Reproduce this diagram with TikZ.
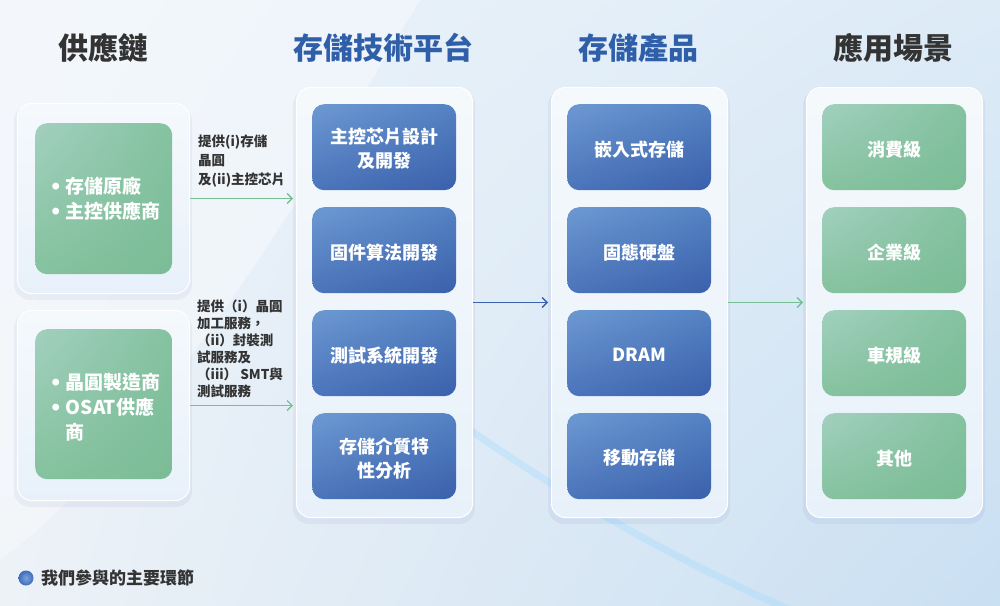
\documentclass[tikz,border=0pt]{standalone}
\usepackage{fontspec}
\setmainfont{Noto Sans CJK TC}
\newfontfamily\bulletf{Liberation Sans}
\usetikzlibrary{arrows.meta,shadings,positioning}
\definecolor{bgA}{HTML}{EEF4FA}
\definecolor{bgB}{HTML}{DDEBF7}
\definecolor{bgC}{HTML}{EDF2F7}
\definecolor{bgD}{HTML}{C9DFF2}
\definecolor{panelTop}{HTML}{F5F9FC}
\definecolor{panelBot}{HTML}{E8F1FA}
\definecolor{bluUL}{HTML}{6D99D2}
\definecolor{bluUR}{HTML}{5482C3}
\definecolor{bluLL}{HTML}{4B74BA}
\definecolor{bluLR}{HTML}{3A60AB}
\definecolor{grnUL}{HTML}{A2D0BF}
\definecolor{grnUR}{HTML}{84C2A0}
\definecolor{grnLL}{HTML}{85C29E}
\definecolor{grnLR}{HTML}{7BBC96}
\definecolor{txtDark}{HTML}{333333}
\definecolor{hdBlue}{HTML}{2F5FA9}
\definecolor{arrGreen}{HTML}{77C094}
\definecolor{arrBlue}{HTML}{3A62AE}
\definecolor{dotIn}{HTML}{7AA3DD}
\definecolor{dotOut}{HTML}{3E6CBA}
\newcommand{\bul}{{\bulletf\fontsize{24}{25}\selectfont\raisebox{-1pt}{•}}\hspace{6pt}}
\newcommand{\bulph}{\hphantom{\bul}}
\begin{document}
\begin{tikzpicture}[x=1pt,y=-1pt,
  panel/.style={rounded corners=14pt, top color=panelTop, bottom color=panelBot, draw=white, line width=1pt},
  shadowbox/.style={rounded corners=16pt, fill=blue!50!black, opacity=0.045},
  bluebox/.style={rounded corners=12pt, upper left=bluUL, upper right=bluUR, lower left=bluLL, lower right=bluLR},
  greenbox/.style={rounded corners=12pt, upper left=grnUL, upper right=grnUR, lower left=grnLL, lower right=grnLR},
  boxtext/.style={text=white, font=\fontsize{18}{24}\selectfont\bfseries, align=center},
  lefttext/.style={text=white, font=\fontsize{19}{25}\selectfont\bfseries, align=left, anchor=west},
  header/.style={font=\fontsize{30}{34}\selectfont\bfseries},
  lbl/.style={text=txtDark, font=\fontsize{13.5}{19}\selectfont\bfseries, align=left, anchor=north west, inner sep=0pt},
  garrow/.style={draw=arrGreen, line width=1.3pt, -{Straight Barb[length=5pt,width=10pt]}},
  barrow/.style={draw=arrBlue, line width=1.3pt, -{Straight Barb[length=5pt,width=10pt]}}
]
\useasboundingbox (0,0) rectangle (1000,605);
% background
\shade[upper left=bgA, upper right=bgB, lower left=bgC, lower right=bgD] (0,0) rectangle (1000,605);
\fill[white, opacity=0.35] (0,0) -- (420,0) .. controls (300,200) and (150,450) .. (0,560) -- cycle;
\draw[line width=7pt, color=blue!40!cyan!35, opacity=0.4, line cap=round] (470,430) .. controls (600,520) and (700,570) .. (790,610);

% shadows
\foreach \a/\b/\c/\d in {17/103/189/293, 17/310/189/500, 296/87/472/517, 551/87/727/517, 806/87/982/517}{
  \fill[shadowbox] (\a-3,\b+2) rectangle (\c+3,\d+7);
}
% panels
\node[panel, minimum width=172pt, minimum height=190pt, anchor=north west, inner sep=0pt] (p1) at (17,103) {};
\node[panel, minimum width=172pt, minimum height=190pt, anchor=north west, inner sep=0pt] (p2) at (17,310) {};
\node[panel, minimum width=176pt, minimum height=430pt, anchor=north west, inner sep=0pt] (plat) at (296,87) {};
\node[panel, minimum width=176pt, minimum height=430pt, anchor=north west, inner sep=0pt] (prod) at (551,87) {};
\node[panel, minimum width=176pt, minimum height=430pt, anchor=north west, inner sep=0pt] (apps) at (806,87) {};

% headers
\node[header, text=txtDark] (h1) at (103,48) {供應鏈};
\node[header, text=hdBlue] (h2) at (383,48) {存儲技術平台};
\node[header, text=hdBlue] (h3) at (638,48) {存儲產品};
\node[header, text=txtDark] (h4) at (893,48) {應用場景};

% left green boxes
\node[greenbox, minimum width=137pt, minimum height=151pt, anchor=north west, inner sep=0pt] (g1) at (35,123) {};
\node[greenbox, minimum width=137pt, minimum height=150pt, anchor=north west, inner sep=0pt] (g2) at (35,329) {};
\node[lefttext] (g1t) at (48,199) {\bul 存儲原廠\\\bul 主控供應商};
\node[lefttext] (g2t) at (48,407) {\bul 晶圓製造商\\\bul OSAT供應\\\bulph 商};

% platform boxes
\foreach \y/\n/\t in {104/b1/{主控芯片設計\\及開發}, 207/b2/{固件算法開發}, 310/b3/{測試系統開發}, 413/b4/{存儲介質特\\性分析}}{
  \node[bluebox, minimum width=144pt, minimum height=86pt, anchor=north west, inner sep=0pt] (\n) at (312,\y) {};
  \node[boxtext] at ([yshift=-2pt]\n.center) {\t};
}
% product boxes
\foreach \y/\n/\t in {104/c1/{嵌入式存儲}, 207/c2/{固態硬盤}, 310/c3/{DRAM}, 413/c4/{移動存儲}}{
  \node[bluebox, minimum width=144pt, minimum height=86pt, anchor=north west, inner sep=0pt] (\n) at (567,\y) {};
  \node[boxtext] at ([yshift=-2pt]\n.center) {\t};
}
% application boxes
\foreach \y/\n/\t in {104/d1/{消費級}, 207/d2/{企業級}, 310/d3/{車規級}, 413/d4/{其他}}{
  \node[greenbox, minimum width=144pt, minimum height=86pt, anchor=north west, inner sep=0pt] (\n) at (822,\y) {};
  \node[boxtext] at ([yshift=-2pt]\n.center) {\t};
}

% arrows
\draw[garrow, shorten >=3pt] (p1.east) -- (p1.east -| plat.west);
\draw[garrow, shorten >=3pt] (p2.east) -- (p2.east -| plat.west);
\draw[barrow, shorten >=3pt] (plat.east) -- (prod.west);
\draw[garrow, shorten >=3pt] (prod.east) -- (apps.west);

% arrow labels
\node[lbl] (l1) at (198,135) {提供(i)存儲\\晶圓\\及(ii)主控芯片};
\node[lbl, font=\fontsize{13.5}{17}\selectfont\bfseries] (l2) at (197,300) {提供（i）晶圓\\加工服務，\\（ii）封裝測\\試服務及\\（iii） SMT與\\測試服務};

% legend
\shade[inner color=dotIn, outer color=dotOut] (26,578) circle (7.5pt) node[coordinate] (dot) {};
\node[anchor=west, text=txtDark, font=\fontsize{17}{20}\selectfont\bfseries, inner sep=0pt] (leg) at (41,578) {我們參與的主要環節};
\end{tikzpicture}
\end{document}
